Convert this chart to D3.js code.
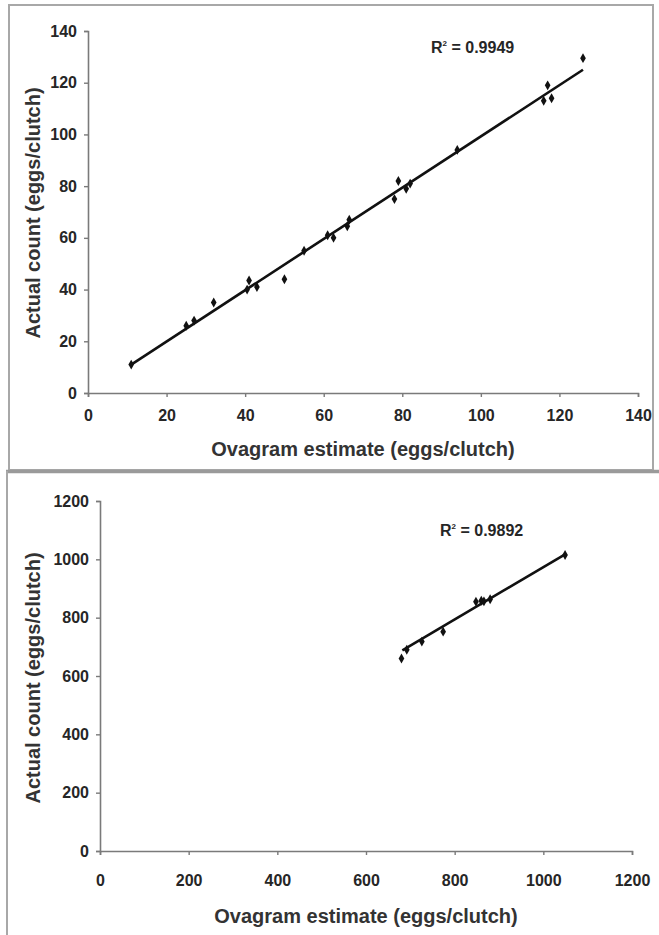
<!DOCTYPE html>
<html>
<head>
<meta charset="utf-8">
<script src="https://cdn.jsdelivr.net/npm/d3@7"></script>
<style>
  html, body { margin: 0; padding: 0; background: #fff; }
  svg { display: block; }
</style>
</head>
<body>
<svg id="fig" width="659" height="935"></svg>
<script>
// Panel A: small clutches (eggs/clutch)
const estimateA = [11, 25, 27, 32, 40.5, 41, 43, 50, 55, 61, 62.5, 66, 66.5, 78, 79, 81, 82, 94, 116, 117, 118, 126];
const countA    = [11, 26, 28, 35, 40, 43.5, 41, 44, 55, 61, 60, 64.5, 67, 75, 82, 79, 81, 94, 113, 119, 114, 129.5];
const trendA    = [[11, 11], [126, 125]];
const r2A       = "0.9949";
const ticksA    = [0, 20, 40, 60, 80, 100, 120, 140];

// Panel B: large clutches (eggs/clutch)
const estimateB = [680, 692, 726, 774, 848, 860, 866, 880, 1049];
const countB    = [660, 690, 718, 752, 855, 858, 856, 863, 1015];
const trendB    = [[682, 688], [1049, 1017]];
const r2B       = "0.9892";
const ticksB    = [0, 200, 400, 600, 800, 1000, 1200];

const xTitle = "Ovagram estimate (eggs/clutch)";
const yTitle = "Actual count (eggs/clutch)";

const FONT = "'Liberation Sans', Arial, Helvetica, sans-serif";
const svg = d3.select("#fig");

// panel frames
const frame = svg.append("g").attr("fill", "none");
frame.append("rect").attr("x", 9).attr("y", 5).attr("width", 644).attr("height", 465)
  .attr("stroke", "#a8a8a8").attr("stroke-width", 2);
frame.append("line").attr("x1", 6).attr("x2", 659).attr("y1", 471.5).attr("y2", 471.5)
  .attr("stroke", "#9a9a9a").attr("stroke-width", 3.5);
frame.append("line").attr("x1", 7).attr("x2", 7).attr("y1", 471).attr("y2", 935)
  .attr("stroke", "#a8a8a8").attr("stroke-width", 2);

function panel(cfg) {
  const x = d3.scaleLinear().domain(cfg.domain).range([cfg.left, cfg.right]);
  const y = d3.scaleLinear().domain(cfg.domain).range([cfg.bottom, cfg.top]);
  const g = svg.append("g");
  const fmt = d3.format("d");

  const xAxis = g.append("g")
    .attr("transform", `translate(0,${cfg.bottom})`)
    .call(d3.axisBottom(x).tickValues(cfg.ticks).tickFormat(fmt)
      .tickSize(4).tickSizeOuter(4).tickPadding(cfg.xPad));
  const yAxis = g.append("g")
    .attr("transform", `translate(${cfg.left},0)`)
    .call(d3.axisLeft(y).tickValues(cfg.ticks).tickFormat(fmt)
      .tickSize(4).tickSizeOuter(4).tickPadding(7));

  [xAxis, yAxis].forEach(a => {
    a.select(".domain").attr("stroke", "#7a7a7a").attr("stroke-width", 1.6);
    a.selectAll(".tick line").attr("stroke", "#7a7a7a").attr("stroke-width", 1.4);
    a.selectAll("text")
      .attr("font-family", FONT).attr("font-weight", "bold")
      .attr("font-size", 16).attr("fill", "#262626");
  });

  // fitted line
  g.append("path")
    .datum(cfg.trend)
    .attr("d", d3.line().x(d => x(d[0])).y(d => y(d[1])))
    .attr("fill", "none").attr("stroke", "#111").attr("stroke-width", 2.6);

  // observations
  g.append("g").selectAll("path")
    .data(cfg.xs.map((v, i) => [v, cfg.ys[i]]))
    .join("path")
    .attr("transform", d => `translate(${x(d[0])},${y(d[1])})`)
    .attr("d", d3.symbol(d3.symbolDiamond, 28))
    .attr("fill", "#111");

  // R² annotation
  const r = g.append("text")
    .attr("x", cfg.r2x).attr("y", cfg.r2y)
    .attr("font-family", FONT).attr("font-weight", "bold")
    .attr("font-size", 16).attr("fill", "#262626");
  r.append("tspan").text("R");
  r.append("tspan").attr("font-size", 8).attr("dy", -7).text("2");
  r.append("tspan").attr("dy", 7).text(" = " + cfg.r2);

  // axis titles
  g.append("text")
    .attr("x", (cfg.left + cfg.right) / 2).attr("y", cfg.xTitleY)
    .attr("text-anchor", "middle")
    .attr("font-family", FONT).attr("font-weight", "bold")
    .attr("font-size", 20).attr("fill", "#333")
    .text(xTitle);
  g.append("text")
    .attr("transform", `translate(${cfg.yTitleX},${cfg.yTitleY}) rotate(-90)`)
    .attr("text-anchor", "middle")
    .attr("font-family", FONT).attr("font-weight", "bold")
    .attr("font-size", 20).attr("fill", "#333")
    .text(yTitle);
}

panel({
  domain: [0, 140], ticks: ticksA,
  left: 88, right: 638, top: 31, bottom: 393, xPad: 13,
  xs: estimateA, ys: countA, trend: trendA, r2: r2A,
  r2x: 431, r2y: 53,
  xTitleY: 456, yTitleX: 40, yTitleY: 213
});

panel({
  domain: [0, 1200], ticks: ticksB,
  left: 100, right: 632, top: 501, bottom: 851, xPad: 20,
  xs: estimateB, ys: countB, trend: trendB, r2: r2B,
  r2x: 440, r2y: 536,
  xTitleY: 923, yTitleX: 40, yTitleY: 678
});
</script>
</body>
</html>
